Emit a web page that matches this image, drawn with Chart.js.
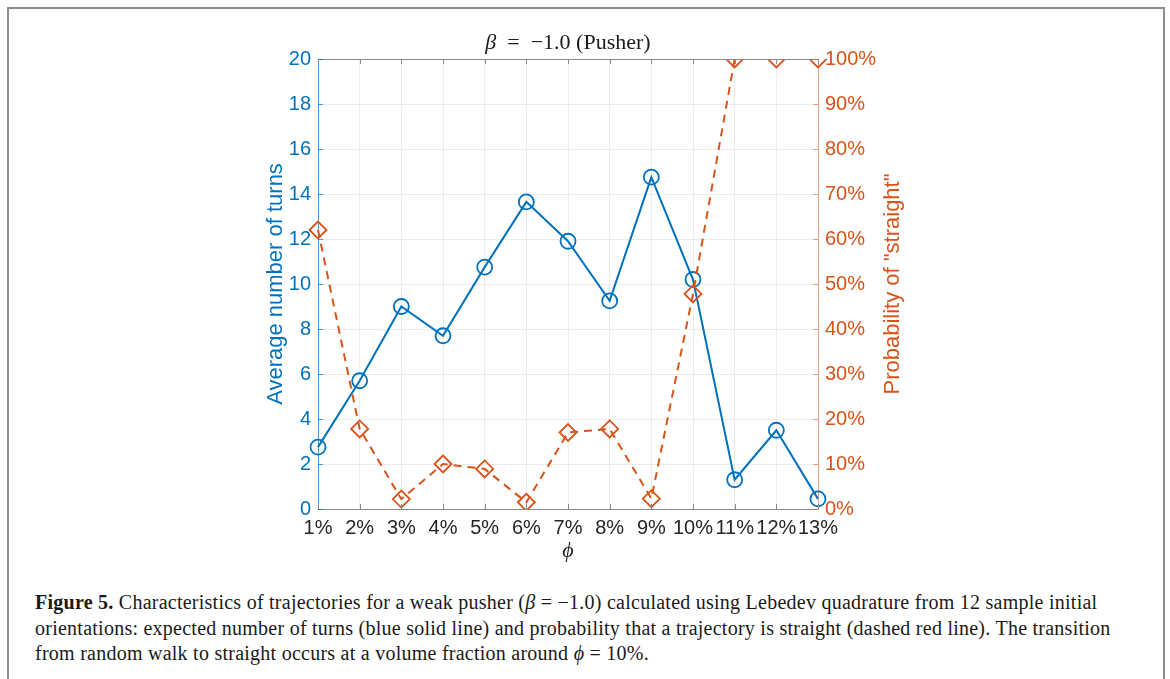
<!DOCTYPE html>
<html>
<head>
<meta charset="utf-8">
<script src="https://cdn.jsdelivr.net/npm/chart.js@4.4.0/dist/chart.umd.min.js"></script>
<style>
html,body{margin:0;padding:0;background:#fff;width:1170px;height:679px;overflow:hidden}
#frame{position:absolute;left:7px;top:7px;width:1154px;height:720px;border:2px solid #8c8c8c;box-sizing:content-box}
#wrap{position:absolute;left:0;top:0;width:1170px;height:580px}
#cap{position:absolute;left:35px;top:590px;font-family:'Liberation Serif','DejaVu Serif',serif;font-size:20px;letter-spacing:0.25px;line-height:25.5px;color:#1a1a1a;white-space:nowrap}
</style>
</head>
<body>
<div id="frame"></div>
<div id="wrap"><canvas id="c"></canvas></div>
<div id="cap"><b>Figure 5.</b> Characteristics of trajectories for a weak pusher (<i>β</i> = −1.0) calculated using Lebedev quadrature from 12 sample initial<br>orientations: expected number of turns (blue solid line) and probability that a trajectory is straight (dashed red line). The transition<br>from random walk to straight occurs at a volume fraction around <i>ϕ</i> = 10%.</div>
<script>
const categories = ['1%','2%','3%','4%','5%','6%','7%','8%','9%','10%','11%','12%','13%'];
const avgTurns = [2.75, 5.7, 9.0, 7.7, 10.75, 13.65, 11.9, 9.25, 14.75, 10.2, 1.3, 3.5, 0.45];
const probStraight = [62, 17.8, 2.2, 10, 8.9, 1.5, 17, 17.8, 2.3, 47.8, 100, 100, 100];
const leftTicks = [0, 2, 4, 6, 8, 10, 12, 14, 16, 18, 20];
const rightTicks = [0, 10, 20, 30, 40, 50, 60, 70, 80, 90, 100];
const titleParts = [['β', 'italic'], ['\u2002=\u2002−1.0 (Pusher)', 'normal']];

const BLUE = '#0072BD';
const ORANGE = '#D95319';
const AXIS = '#8a8a8a';

const boxPlugin = {
  id: 'boxPlugin',
  afterDraw(chart) {
    const ctx = chart.ctx;
    const a = chart.chartArea;
    const x = chart.scales.x, y = chart.scales.y, y1 = chart.scales.y1;
    ctx.save();
    ctx.strokeStyle = AXIS;
    ctx.lineWidth = 1;
    ctx.beginPath();
    ctx.moveTo(a.left, a.top + 0.5);
    ctx.lineTo(a.right, a.top + 0.5);
    ctx.stroke();
    const tl = 5;
    ctx.beginPath();
    x.ticks.forEach((t, i) => {
      const px = Math.round(x.getPixelForTick(i)) + 0.5;
      ctx.moveTo(px, a.bottom); ctx.lineTo(px, a.bottom - tl);
      ctx.moveTo(px, a.top); ctx.lineTo(px, a.top + tl);
    });
    ctx.stroke();
    ctx.strokeStyle = 'rgba(0,114,189,0.7)';
    ctx.beginPath();
    y.ticks.forEach(t => {
      const py = Math.round(y.getPixelForValue(t.value)) + 0.5;
      ctx.moveTo(a.left, py); ctx.lineTo(a.left + tl, py);
    });
    ctx.stroke();
    ctx.strokeStyle = 'rgba(217,83,25,0.5)';
    ctx.beginPath();
    y1.ticks.forEach(t => {
      const py = Math.round(y1.getPixelForValue(t.value)) + 0.5;
      ctx.moveTo(a.right, py); ctx.lineTo(a.right - tl, py);
    });
    ctx.stroke();
    // title, centred on the plot area
    ctx.fillStyle = '#1a1a1a';
    ctx.textBaseline = 'middle';
    ctx.textAlign = 'left';
    const fonts = titleParts.map(p => (p[1] === 'italic' ? 'italic ' : '') + '22px "Liberation Serif", serif');
    let total = 0;
    const widths = titleParts.map((p, i) => { ctx.font = fonts[i]; const w = ctx.measureText(p[0]).width; total += w; return w; });
    let tx = (a.left + a.right) / 2 - total / 2;
    titleParts.forEach((p, i) => { ctx.font = fonts[i]; ctx.fillText(p[0], tx, 43); tx += widths[i]; });
    // right axis title
    ctx.fillStyle = ORANGE;
    ctx.font = '22px "Liberation Sans", Arial, sans-serif';
    ctx.textAlign = 'center';
    ctx.translate(893, (a.top + a.bottom) / 2);
    ctx.rotate(-Math.PI / 2);
    ctx.fillText('Probability of "straight"', 0, 0);
    ctx.restore();
  }
};

new Chart(document.getElementById('c'), {
  type: 'line',
  data: {
    labels: categories,
    datasets: [
      {
        label: 'Probability of "straight"',
        data: probStraight,
        yAxisID: 'y1',
        borderColor: ORANGE,
        borderWidth: 2,
        borderDash: [8, 6],
        pointStyle: 'rectRot',
        pointRadius: 8.5,
        pointBorderWidth: 1.8,
        pointBorderColor: ORANGE,
        pointBackgroundColor: 'rgba(0,0,0,0)',
        tension: 0,
        fill: false
      },
      {
        label: 'Average number of turns',
        data: avgTurns,
        yAxisID: 'y',
        borderColor: BLUE,
        borderWidth: 2,
        pointStyle: 'circle',
        pointRadius: 7.5,
        pointBorderWidth: 1.8,
        pointBorderColor: BLUE,
        pointBackgroundColor: 'rgba(0,0,0,0)',
        tension: 0,
        fill: false
      }
    ]
  },
  options: {
    responsive: true,
    maintainAspectRatio: false,
    animation: false,
    events: [],
    layout: { padding: { left: 260, right: 252, top: 59, bottom: 0 } },
    plugins: {
      legend: { display: false },
      tooltip: { enabled: false },
      title: { display: false }
    },
    scales: {
      x: {
        type: 'category',
        offset: false,
        grid: { color: '#ececec', drawTicks: false },
        border: { display: true, color: AXIS, width: 1 },
        ticks: { color: '#262626', font: { family: '"Liberation Sans", Arial, sans-serif', size: 20 }, padding: 7, maxRotation: 0, autoSkip: false },
        title: { display: true, text: 'ϕ', color: '#262626', font: { family: '"Liberation Serif", serif', size: 22, style: 'italic' }, padding: { top: 0, bottom: 16 } },
        afterFit: s => { s.height = 71; }
      },
      y: {
        position: 'left',
        min: 0, max: 20,
        afterBuildTicks: s => { s.ticks = leftTicks.map(v => ({ value: v })); },
        grid: { color: '#ececec', drawTicks: false },
        border: { display: true, color: 'rgba(0,114,189,0.7)', width: 1 },
        ticks: { color: BLUE, font: { family: '"Liberation Sans", Arial, sans-serif', size: 20 }, padding: 7 },
        title: { display: true, text: 'Average number of turns', color: BLUE, font: { family: '"Liberation Sans", Arial, sans-serif', size: 22 }, padding: { top: 3, bottom: 0 } },
        afterFit: s => { s.width = 58; }
      },
      y1: {
        position: 'right',
        min: 0, max: 100,
        afterBuildTicks: s => { s.ticks = rightTicks.map(v => ({ value: v })); },
        grid: { display: false, drawTicks: false },
        border: { display: true, color: 'rgba(217,83,25,0.5)', width: 1 },
        ticks: { color: ORANGE, font: { family: '"Liberation Sans", Arial, sans-serif', size: 20 }, padding: 7, callback: v => v + '%' },
        afterFit: s => { s.width = 100; }
      }
    }
  },
  plugins: [boxPlugin]
});
</script>
</body>
</html>
